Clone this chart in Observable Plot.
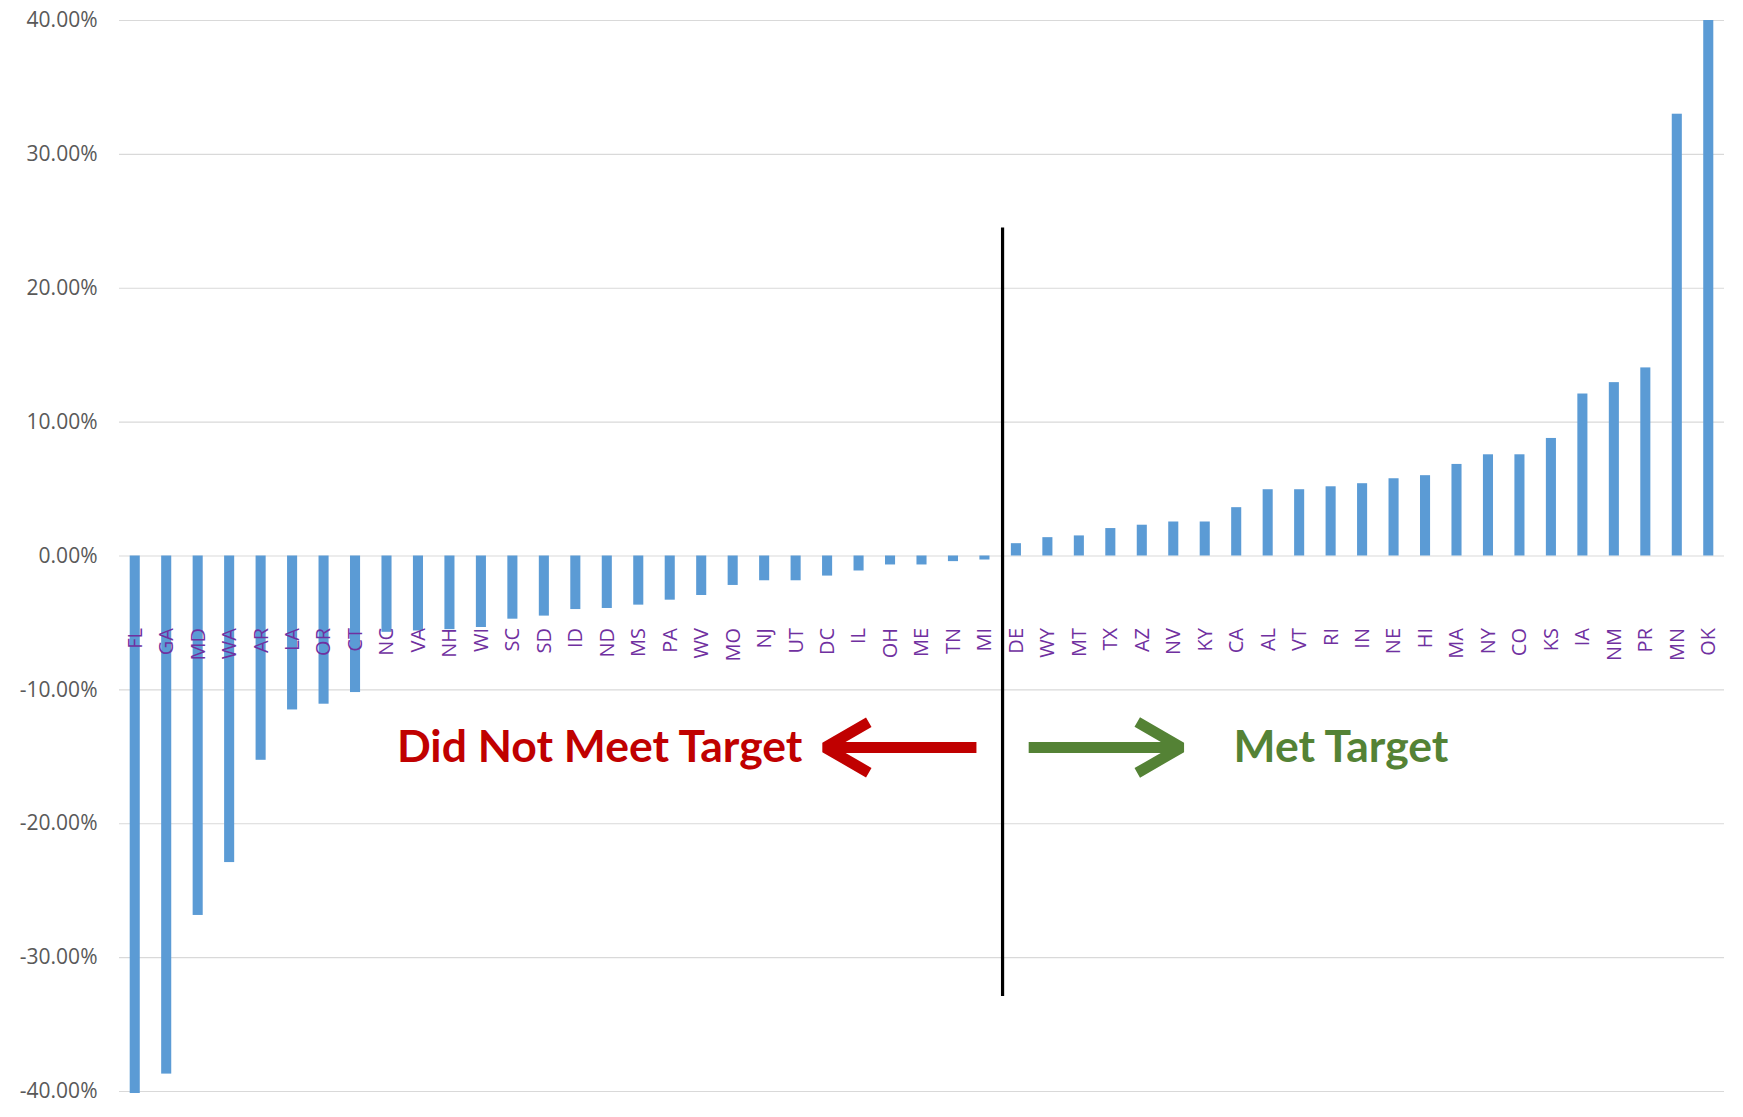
<!DOCTYPE html>
<html>
<head>
<meta charset="utf-8">
<script src="https://cdn.jsdelivr.net/npm/d3@7"></script>
<script src="https://cdn.jsdelivr.net/npm/@observablehq/plot@0.6"></script>
<style>
  html, body { margin: 0; padding: 0; background: #ffffff; }
  #chart svg { display: block; }
</style>
</head>
<body>
<div id="chart"></div>
<script>
// ---- Data ----
const states = ["FL","GA","MD","WA","AR","LA","OR","CT","NC","VA","NH","WI","SC","SD","ID","ND","MS","PA","WV","MO","NJ","UT","DC","IL","OH","ME","TN","MI","DE","WY","MT","TX","AZ","NV","KY","CA","AL","VT","RI","IN","NE","HI","MA","NY","CO","KS","IA","NM","PR","MN","OK"];
const changePct = [-40.15,-38.7,-26.85,-22.9,-15.26,-11.5,-11.07,-10.2,-5.7,-5.6,-5.5,-5.34,-4.72,-4.49,-4.0,-3.92,-3.67,-3.3,-2.95,-2.2,-1.85,-1.85,-1.5,-1.12,-0.67,-0.67,-0.42,-0.3,0.92,1.37,1.5,2.05,2.3,2.54,2.54,3.61,4.95,4.95,5.17,5.4,5.77,6.0,6.84,7.56,7.56,8.78,12.1,12.95,14.05,33.0,40.0];
const yTicks = [-40,-30,-20,-10,0,10,20,30,40];
const labelNotMet = "Did Not Meet Target";
const labelMet = "Met Target";

const rows = states.map((s, i) => ({state: s, i, value: changePct[i]}));
const half = 0.16; // half bar width in band units
const fmt = d => d.toFixed(2) + "%";

const chart = Plot.plot({
  width: 1743,
  height: 1117,
  marginLeft: 119,
  marginRight: 19,
  marginTop: 20,
  marginBottom: 26,
  style: {background: "#ffffff", fontFamily: "'Open Sans', sans-serif"},
  x: {domain: [-0.5, states.length - 0.5], axis: null},
  y: {domain: [-40, 40], ticks: yTicks, tickFormat: fmt, label: null},
  marks: [
    Plot.gridY(yTicks, {stroke: "#D9D9D9", strokeOpacity: 1, strokeWidth: 1.2}),
    Plot.axisY(yTicks, {tickSize: 0, tickPadding: 22, tickFormat: fmt, fontSize: 21, fill: "#595959", label: null}),
    Plot.rectY(rows, {x1: d => d.i - half, x2: d => d.i + half, y: "value", fill: "#5B9BD5"}),
    Plot.text(rows, {x: "i", y: () => 0, text: "state", rotate: -90, textAnchor: "end", dy: 72, fontSize: 20, fill: "#7030A0"}),
    Plot.ruleX([27.56], {y1: 24.5, y2: -32.9, stroke: "#000000", strokeWidth: 3.2}),
    Plot.arrow([{x1: 26.73, x2: 21.92, y: -14.3}], {x1: "x1", x2: "x2", y1: "y", y2: "y", stroke: "#C00000", strokeWidth: 11, headLength: 10, headAngle: 60, strokeLinejoin: "miter", strokeLinecap: "butt"}),
    Plot.arrow([{x1: 28.39, x2: 33.24, y: -14.3}], {x1: "x1", x2: "x2", y1: "y", y2: "y", stroke: "#548235", strokeWidth: 11, headLength: 10, headAngle: 60, strokeLinejoin: "miter", strokeLinecap: "butt"}),
    Plot.text([labelNotMet], {x: () => 21.2, y: () => -14.3, text: d => d, textAnchor: "end", fontSize: 44.5, fontWeight: "bold", fill: "#C00000", fontFamily: "Lato, sans-serif"}),
    Plot.text([labelMet], {x: () => 34.9, y: () => -14.3, text: d => d, textAnchor: "start", fontSize: 44.5, fontWeight: "bold", fill: "#548235", fontFamily: "Lato, sans-serif"})
  ]
});
document.getElementById("chart").appendChild(chart);
</script>
</body>
</html>
